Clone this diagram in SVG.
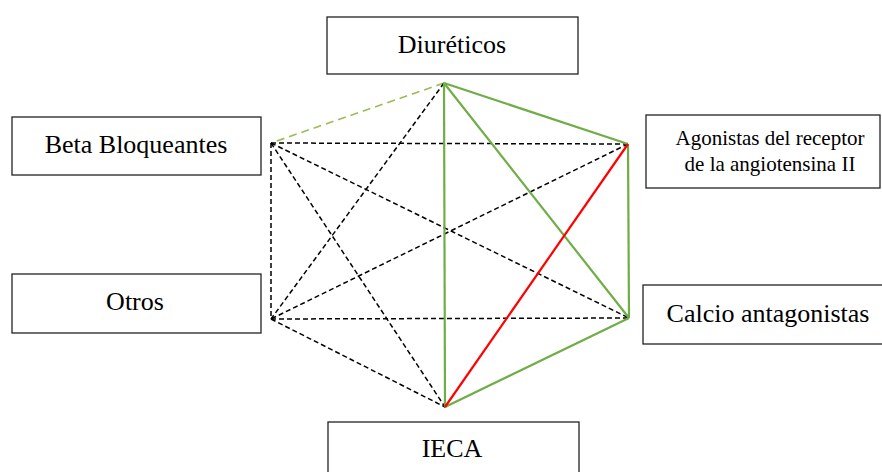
<svg xmlns="http://www.w3.org/2000/svg" width="882" height="472" viewBox="0 0 882 472">
<style>
.box{fill:#fff;stroke:#222;stroke-width:1.3}
.lbl{font-family:"Liberation Serif","Times New Roman",serif;font-size:26px;fill:#000;text-anchor:middle}
.sm{font-size:21px}
.g{stroke:#70AD47;stroke-width:2.2;fill:none}
.lg{stroke:#9BBB59;stroke-width:1.6;stroke-dasharray:8,5;fill:none}
.r{stroke:#FF0000;stroke-width:2.2;fill:none}
.k{stroke:#000;stroke-width:1.5;stroke-dasharray:5,3;fill:none}
</style>
<rect width="882" height="472" fill="#fff"/>
<g id="connectors">
<line class="lg" x1="444" y1="83" x2="271" y2="143"/>
<line class="k" x1="444" y1="83" x2="271" y2="319"/>
<line class="k" x1="271" y1="143" x2="628" y2="144"/>
<line class="k" x1="271" y1="143" x2="271" y2="319"/>
<line class="k" x1="271" y1="143" x2="629" y2="318"/>
<line class="k" x1="271" y1="143" x2="445" y2="407"/>
<line class="k" x1="628" y1="144" x2="271" y2="319"/>
<line class="k" x1="271" y1="319" x2="629" y2="318"/>
<line class="k" x1="271" y1="319" x2="445" y2="407"/>
<line class="g" x1="444" y1="83" x2="628" y2="144"/>
<line class="g" x1="444" y1="83" x2="445" y2="407"/>
<line class="g" x1="444" y1="83" x2="629" y2="318"/>
<line class="g" x1="628" y1="144" x2="629" y2="318"/>
<line class="g" x1="629" y1="318" x2="445" y2="407"/>
<line class="r" x1="628" y1="144" x2="445" y2="407"/>
</g>
<g id="diureticos">
<rect class="box" x="327" y="17" width="251" height="57"/>
<text class="lbl" x="452" y="53">Diuréticos</text>
</g>
<g id="beta">
<rect class="box" x="12" y="117" width="249" height="58"/>
<text class="lbl" x="136" y="153">Beta Bloqueantes</text>
</g>
<g id="agonistas">
<rect class="box" x="646" y="115" width="234" height="73"/>
<text class="lbl sm" x="770" y="145">Agonistas del receptor</text>
<text class="lbl sm" x="770" y="171">de la angiotensina II</text>
</g>
<g id="otros">
<rect class="box" x="12" y="274" width="249" height="59"/>
<text class="lbl" x="135" y="310">Otros</text>
</g>
<g id="calcio">
<rect class="box" x="643" y="285" width="241" height="59"/>
<text class="lbl" x="768" y="322">Calcio antagonistas</text>
</g>
<g id="ieca">
<rect class="box" x="328" y="422" width="251" height="60"/>
<text class="lbl" x="452" y="457">IECA</text>
</g>
</svg>
